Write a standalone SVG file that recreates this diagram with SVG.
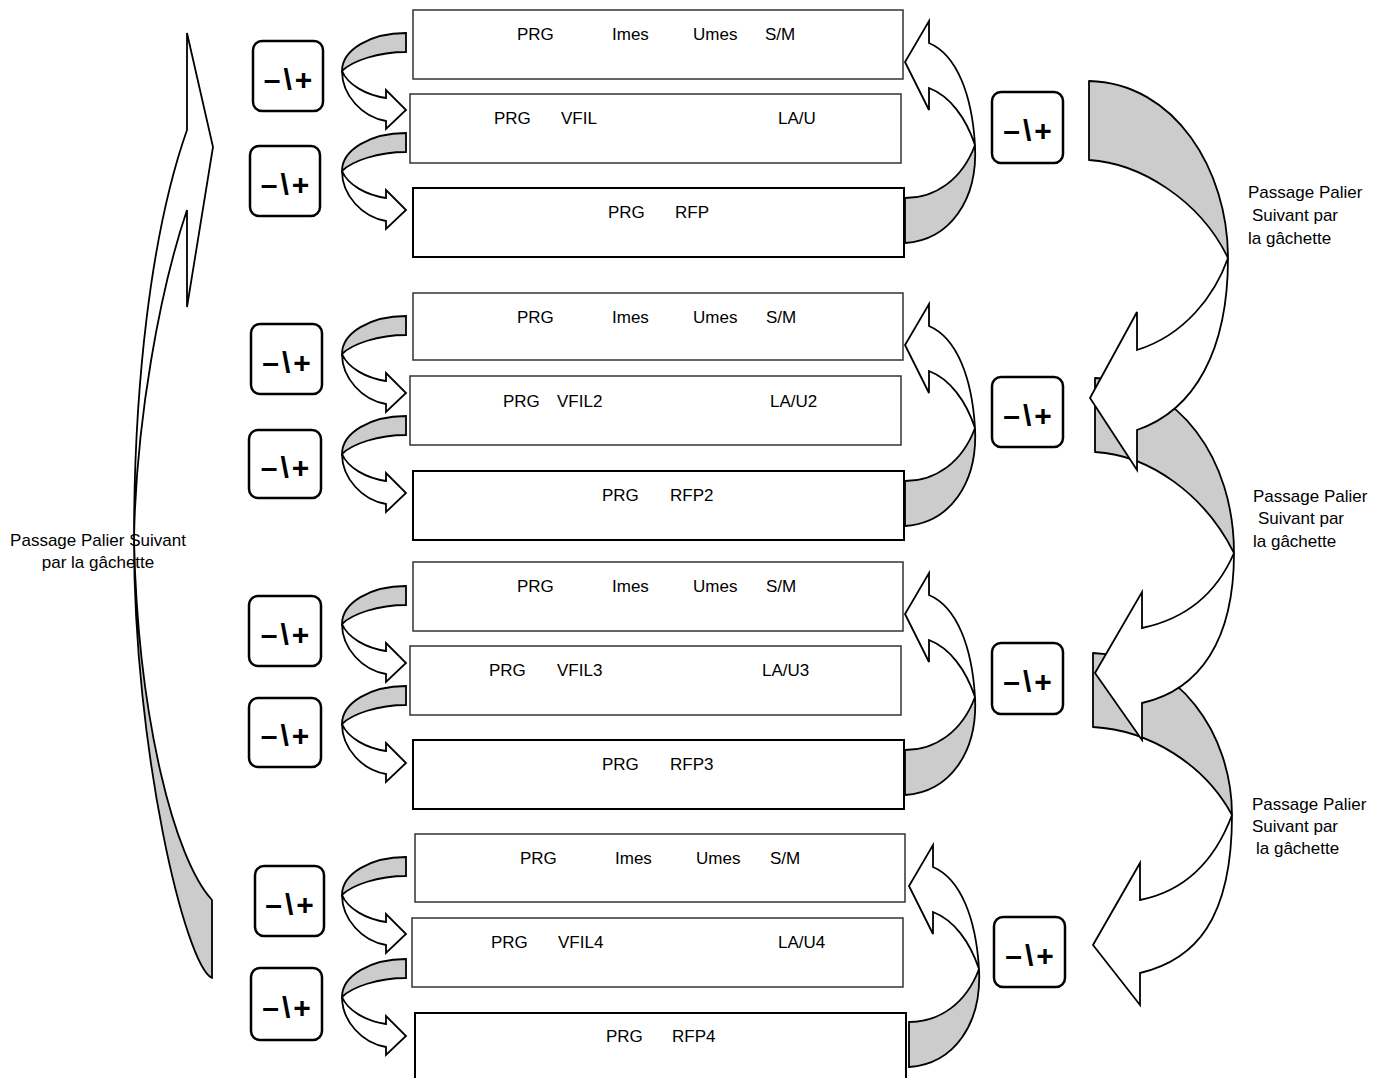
<svg xmlns="http://www.w3.org/2000/svg" width="1388" height="1078" viewBox="0 0 1388 1078">
<style>
.box{fill:#fff;stroke:#333;stroke-width:1.5}
.boxc{fill:#fff;stroke:#000;stroke-width:2}
.t{font-family:"Liberation Sans",Arial,sans-serif;font-size:17px;fill:#000}
.br{fill:#fff;stroke:#000;stroke-width:2.5}
.bt{font-family:"Liberation Sans",Arial,sans-serif;font-size:30px;font-weight:bold;text-anchor:middle;letter-spacing:3px;fill:#000}
.g{fill:#cccccc;stroke:#000;stroke-width:1.8;stroke-linejoin:round}
.w{fill:#fff;stroke:#000;stroke-width:1.8;stroke-linejoin:miter}
</style>
<defs>
<g id="la">
<path fill="#cccccc" stroke="#000" stroke-width="1.8" d="M0,0 C-36,0 -64,17 -64,38 C-54,28 -28,19 0,19 Z"/>
<path fill="#fff" stroke="#000" stroke-width="1.8" d="M-64,38 C-64,62 -44,84 -20,88 L-20,96 L0,77 L-20,57 L-20,65 C-40,62 -58,52 -64,38 Z"/>
</g>
<g id="ra">
<path fill="#cccccc" stroke="#000" stroke-width="1.8" d="M905,198 C935,198 962,180 975,145 C978,200 950,240 905,243 Z"/>
<path fill="#fff" stroke="#000" stroke-width="1.8" d="M975,145 C972,95 957,55 929,43 L929,21 L905,62 L929,110 L929,88 C950,96 966,118 975,145 Z"/>
</g>
</defs>
<rect width="1388" height="1078" fill="#fff"/>

<g id="connectors">
<!-- left big arrow -->
<path class="g" d="M212,978 L212,900 C175,860 138,720 134,540 C134,750 185,965 212,978 Z"/>
<path class="w" d="M134,540 C134,390 150,235 187,130 L187,33 L213,147 L187,307 L187,210 C160,290 136,420 134,540 Z"/>
<!-- big right arrows -->
<path class="g" d="M1093,653 C1180,656 1232,735 1232,815 C1205,765 1150,730 1093,727 Z"/>
<path class="w" d="M1232,815 C1232,920 1195,960 1140,973 L1140,1005 L1093,945 L1140,863 L1140,900 C1190,890 1217,855 1232,815 Z"/>
<path class="g" d="M1095,378 C1180,381 1234,460 1234,553 C1205,495 1150,455 1095,452 Z"/>
<path class="w" d="M1234,553 C1234,640 1200,690 1142,703 L1142,740 L1095,673 L1142,592 L1142,628 C1190,618 1218,590 1234,553 Z"/>
<path class="g" d="M1089,81 C1175,83 1228,170 1228,258 C1200,200 1140,163 1089,160 Z"/>
<path class="w" d="M1228,258 C1228,350 1195,410 1137,430 L1137,470 L1090,398 L1137,312 L1137,350 C1185,335 1215,295 1228,258 Z"/>
</g>

<g id="boxes">
<g id="g1-a"><rect class="box" x="413" y="10" width="490" height="69"/><text class="t" y="40"><tspan x="517">PRG</tspan><tspan x="612">Imes</tspan><tspan x="693">Umes</tspan><tspan x="765">S/M</tspan></text></g>
<g id="g1-b"><rect class="box" x="410" y="94" width="491" height="69"/><text class="t" y="124"><tspan x="494">PRG</tspan><tspan x="561">VFIL</tspan><tspan x="778">LA/U</tspan></text></g>
<g id="g1-c"><rect class="boxc" x="413" y="188" width="491" height="69"/><text class="t" y="218"><tspan x="608">PRG</tspan><tspan x="675">RFP</tspan></text></g>

<g id="g2-a"><rect class="box" x="413" y="293" width="490" height="67"/><text class="t" y="323"><tspan x="517">PRG</tspan><tspan x="612">Imes</tspan><tspan x="693">Umes</tspan><tspan x="766">S/M</tspan></text></g>
<g id="g2-b"><rect class="box" x="410" y="376" width="491" height="69"/><text class="t" y="407"><tspan x="503">PRG</tspan><tspan x="557">VFIL2</tspan><tspan x="770">LA/U2</tspan></text></g>
<g id="g2-c"><rect class="boxc" x="413" y="471" width="491" height="69"/><text class="t" y="501"><tspan x="602">PRG</tspan><tspan x="670">RFP2</tspan></text></g>

<g id="g3-a"><rect class="box" x="413" y="562" width="490" height="69"/><text class="t" y="592"><tspan x="517">PRG</tspan><tspan x="612">Imes</tspan><tspan x="693">Umes</tspan><tspan x="766">S/M</tspan></text></g>
<g id="g3-b"><rect class="box" x="410" y="646" width="491" height="69"/><text class="t" y="676"><tspan x="489">PRG</tspan><tspan x="557">VFIL3</tspan><tspan x="762">LA/U3</tspan></text></g>
<g id="g3-c"><rect class="boxc" x="413" y="740" width="491" height="69"/><text class="t" y="770"><tspan x="602">PRG</tspan><tspan x="670">RFP3</tspan></text></g>

<g id="g4-a"><rect class="box" x="415" y="834" width="490" height="68"/><text class="t" y="864"><tspan x="520">PRG</tspan><tspan x="615">Imes</tspan><tspan x="696">Umes</tspan><tspan x="770">S/M</tspan></text></g>
<g id="g4-b"><rect class="box" x="412" y="918" width="491" height="69"/><text class="t" y="948"><tspan x="491">PRG</tspan><tspan x="558">VFIL4</tspan><tspan x="778">LA/U4</tspan></text></g>
<g id="g4-c"><rect class="boxc" x="415" y="1013" width="491" height="80"/><text class="t" y="1042"><tspan x="606">PRG</tspan><tspan x="672">RFP4</tspan></text></g>
</g>

<g id="connectors-small">
<use href="#la" transform="translate(406,33)"/>
<use href="#la" transform="translate(406,133)"/>
<use href="#la" transform="translate(406,316)"/>
<use href="#la" transform="translate(406,416)"/>
<use href="#la" transform="translate(406,586)"/>
<use href="#la" transform="translate(406,686)"/>
<use href="#la" transform="translate(406,857)"/>
<use href="#la" transform="translate(406,959)"/>
<use href="#ra"/>
<use href="#ra" transform="translate(0,283)"/>
<use href="#ra" transform="translate(0,552)"/>
<use href="#ra" transform="translate(4,824)"/>
</g>

<g id="buttons">
<g id="btn-g1-l1"><rect class="br" x="253" y="41" width="70" height="70" rx="9"/><text class="bt" x="289.5" y="89.5">–\+</text></g>
<g id="btn-g1-l2"><rect class="br" x="250" y="146" width="70" height="70" rx="9"/><text class="bt" x="286.5" y="194.5">–\+</text></g>
<g id="btn-g1-r"><rect class="br" x="992" y="92" width="71" height="71" rx="9"/><text class="bt" x="1029" y="141">–\+</text></g>
<g id="btn-g2-l1"><rect class="br" x="251" y="324" width="71" height="70" rx="9"/><text class="bt" x="288" y="372.5">–\+</text></g>
<g id="btn-g2-l2"><rect class="br" x="249" y="430" width="72" height="68" rx="9"/><text class="bt" x="286.5" y="477.5">–\+</text></g>
<g id="btn-g2-r"><rect class="br" x="992" y="377" width="71" height="70" rx="9"/><text class="bt" x="1029" y="425.5">–\+</text></g>
<g id="btn-g3-l1"><rect class="br" x="249" y="596" width="72" height="70" rx="9"/><text class="bt" x="286.5" y="644.5">–\+</text></g>
<g id="btn-g3-l2"><rect class="br" x="249" y="698" width="72" height="69" rx="9"/><text class="bt" x="286.5" y="746">–\+</text></g>
<g id="btn-g3-r"><rect class="br" x="992" y="643" width="71" height="71" rx="9"/><text class="bt" x="1029" y="692">–\+</text></g>
<g id="btn-g4-l1"><rect class="br" x="255" y="866" width="69" height="70" rx="9"/><text class="bt" x="291" y="914.5">–\+</text></g>
<g id="btn-g4-l2"><rect class="br" x="251" y="968" width="71" height="72" rx="9"/><text class="bt" x="288" y="1017.5">–\+</text></g>
<g id="btn-g4-r"><rect class="br" x="994" y="917" width="71" height="70" rx="9"/><text class="bt" x="1031" y="965.5">–\+</text></g>
</g>

<g id="labels">
<text class="t"><tspan x="1248" y="198">Passage Palier</tspan><tspan x="1252" y="221">Suivant par</tspan><tspan x="1248" y="244">la gâchette</tspan></text>
<text class="t"><tspan x="1253" y="502">Passage Palier</tspan><tspan x="1258" y="524">Suivant par</tspan><tspan x="1253" y="547">la gâchette</tspan></text>
<text class="t"><tspan x="1252" y="810">Passage Palier</tspan><tspan x="1252" y="832">Suivant par</tspan><tspan x="1256" y="854">la gâchette</tspan></text>
<text class="t" text-anchor="middle"><tspan x="98" y="546">Passage Palier Suivant</tspan><tspan x="98" y="568">par la gâchette</tspan></text>
</g>
</svg>
